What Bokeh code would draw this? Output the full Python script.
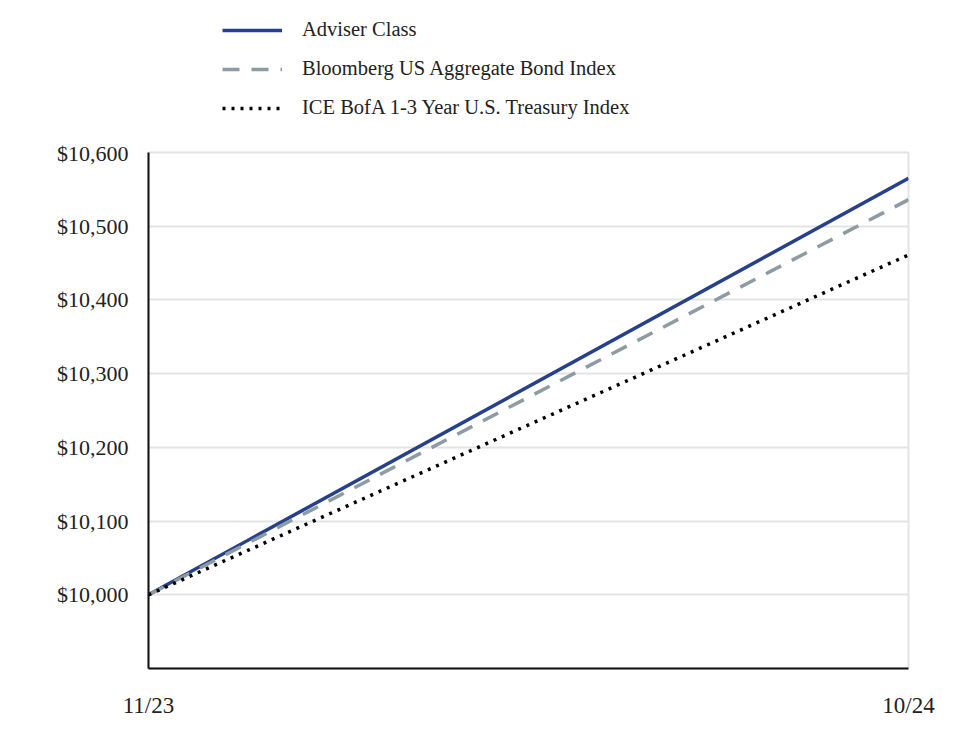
from bokeh.plotting import figure
from bokeh.layouts import column
from bokeh.models import (Range1d, FixedTicker, NumeralTickFormatter, Legend, LegendItem)
from bokeh.embed import file_html
from bokeh.resources import INLINE

dates = ["11/23", "10/24"]
adviser = [10000, 10565]
bloomberg = [10000, 10536]
ice = [10000, 10461]
y_ticks = [10000, 10100, 10200, 10300, 10400, 10500, 10600]
series_names = ["Adviser Class", "Bloomberg US Aggregate Bond Index",
                "ICE BofA 1-3 Year U.S. Treasury Index"]

xs = list(range(len(dates)))
FONT = "Liberation Serif"
COLORS = ["#27408b", "#8e9ba2", "#000000"]
DASHES = ["solid", "17 12", "3 6"]

# Main plot
p = figure(width=964, height=600, output_backend="svg", toolbar_location=None,
           x_range=Range1d(0, len(dates) - 1), y_range=Range1d(9900, 10600),
           min_border_left=148, min_border_right=56, min_border_bottom=72, min_border_top=12)

renderers = []
for vals, c, d in zip([adviser, bloomberg, ice], COLORS, DASHES):
    renderers.append(p.line(xs, vals, line_color=c, line_width=3.5, line_dash=d))

p.yaxis.ticker = FixedTicker(ticks=y_ticks)
p.yaxis.formatter = NumeralTickFormatter(format="$0,0")
p.xaxis.ticker = FixedTicker(ticks=xs)
p.xaxis.major_label_overrides = {i: d for i, d in enumerate(dates)}

for ax in (p.xaxis, p.yaxis):
    ax.major_label_text_font = FONT
    ax.major_label_text_color = "#222222"
    ax.axis_line_color = "#111111"
    ax.axis_line_width = 2
    ax.major_tick_line_color = None
    ax.minor_tick_line_color = None
p.yaxis.major_label_text_font_size = "22px"
p.xaxis.major_label_text_font_size = "23px"
p.yaxis.major_label_standoff = 14
p.xaxis.major_label_standoff = 18

p.ygrid.grid_line_color = "#e3e3e3"
p.ygrid.grid_line_width = 2
p.xgrid.grid_line_color = "#e3e3e3"
p.xgrid.grid_line_width = 2
p.outline_line_color = "#e3e3e3"
p.outline_line_width = 2

# Legend strip on top (same series styles, drawn outside its visible range)
lg = figure(width=964, height=140, output_backend="svg", toolbar_location=None,
            x_range=Range1d(0, 1), y_range=Range1d(0, 1),
            min_border_left=148, min_border_right=56, min_border_top=0, min_border_bottom=0)
lg.axis.visible = False
lg.grid.visible = False
lg.outline_line_color = None
items = []
for name, c, d in zip(series_names, COLORS, DASHES):
    r = lg.line([5, 6], [5, 5], line_color=c, line_width=3.5, line_dash=d)
    items.append(LegendItem(label=name, renderers=[r]))
legend = Legend(items=items, location=(74, 21), orientation="vertical")
legend.label_text_font = FONT
legend.label_text_font_size = "20.5px"
legend.label_text_color = "#222222"
legend.glyph_width = 60
legend.glyph_height = 20
legend.label_standoff = 20
legend.spacing = 16
legend.padding = 0
legend.margin = 0
legend.border_line_color = None
legend.background_fill_alpha = 0
legend.label_height = 20
lg.add_layout(legend)

layout = column(lg, p, spacing=0)
open("out.html", "w").write(file_html(layout, INLINE))
